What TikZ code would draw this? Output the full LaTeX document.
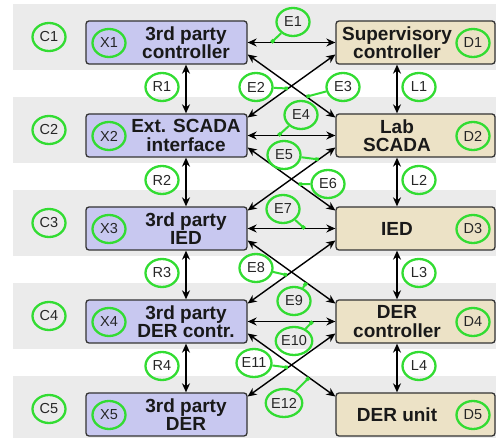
\documentclass[tikz,border=0pt]{standalone}
\usepackage{fontspec}
\setmainfont{Liberation Sans}
\usetikzlibrary{calc,positioning,shapes,arrows,arrows.meta}
\definecolor{xblue}{RGB}{200,200,240}
\definecolor{dbeige}{RGB}{236,226,198}
\definecolor{bandgray}{RGB}{235,235,235}
\definecolor{taggreen}{RGB}{50,220,50}

\begin{document}
\begin{tikzpicture}[x=1pt,y=-1pt]
\tikzstyle{box}=[draw=black!80, line width=1.3pt, rounded corners=3pt, minimum height=43pt, inner sep=0pt]
\tikzstyle{xbox}=[box, fill=xblue, minimum width=161pt]
\tikzstyle{dbox}=[box, fill=dbeige, minimum width=159pt]
\tikzstyle{boxtext}=[font=\fontsize{19}{18.5}\selectfont\bfseries, align=center, text=black!90, inner sep=0pt]
\tikzstyle{idtag}=[ellipse, draw=taggreen, line width=2.3pt, minimum width=33pt, minimum height=28pt, inner sep=0pt, font=\fontsize{14.5}{15}\selectfont, text=black!85]
\tikzstyle{conn}=[line width=1.4pt, {Stealth[length=9pt,width=8pt]}-{Stealth[length=9pt,width=8pt]}]
\tikzstyle{tagline}=[draw=taggreen, line width=2pt, -{Square[length=3.5pt,width=3.5pt]}]
\useasboundingbox (0,0) rectangle (496,438);
% grey bands, one per level
\foreach \c in {42.5,135.5,228.5,321.5,414.5}{\fill[bandgray] (13,\c-38.5) rectangle (496,\c+27.5);}
% third party side
\node[xbox] (X1) at (166.5,42.5) {};
\node[xbox] (X2) at (166.5,135.5) {};
\node[xbox] (X3) at (166.5,228.5) {};
\node[xbox] (X4) at (166.5,321.5) {};
\node[xbox] (X5) at (166.5,414.5) {};
\node[boxtext] (x1) at (186,42.5) {3rd party\\controller};
\node[boxtext] (x2) at (186,135.5) {Ext. SCADA\\interface};
\node[boxtext] (x3) at (186,228.5) {3rd party\\IED};
\node[boxtext] (x4) at (186,321.5) {3rd party\\DER contr.};
\node[boxtext] (x5) at (186,414.5) {3rd party\\DER};
% lab side
\node[dbox] (D1) at (415.5,42.5) {};
\node[dbox] (D2) at (415.5,135.5) {};
\node[dbox] (D3) at (415.5,228.5) {};
\node[dbox] (D4) at (415.5,321.5) {};
\node[dbox] (D5) at (415.5,414.5) {};
\node[boxtext] (d1) at (397,42.5) {Supervisory\\controller};
\node[boxtext] (d2) at (397,135.5) {Lab\\SCADA};
\node[boxtext] (d3) at (397,228.5) {IED};
\node[boxtext] (d4) at (397,321.5) {DER\\controller};
\node[boxtext] (d5) at (397,414.5) {DER unit};
% links
\foreach \i/\j in {1/2,2/3,3/4,4/5}{
  \draw[conn] (x\i |- X\i.south) -- (x\i |- X\j.north);
  \draw[conn] (d\i |- D\i.south) -- (d\i |- D\j.north);
}
\foreach \i/\e/\p in {1/e1/0.27,2/e4/0.35,3/e7/0.65,4/e10/0.74}{\draw[conn] (X\i) -- coordinate[pos=\p] (\e) (D\i);}
\foreach \i/\j/\ea/\pa/\eb/\pb in {1/2/e3/0.67/e2/0.54,2/3/e6/0.58/e5/0.19,3/4/e9/0.67/e8/0.55,4/5/e12/0.7/e11/0.54}{
  \draw[conn] ([yshift=-12pt]X\i.east) -- coordinate[pos=\pa] (\ea) ([yshift=18pt]D\j.west);
  \draw[conn] ([yshift=-12pt]D\i.west) -- coordinate[pos=\pb] (\eb) ([yshift=18pt]X\j.east);
}
% tags
\foreach \i/\c in {1/42.5,2/135.5,3/228.5,4/321.5,5/414.5}{
  \node[idtag] (C\i) at (49,\c-5.5) {C\i};
  \node[idtag] (X\i tag) at (109,\c+0.5) {X\i};
  \node[idtag] (D\i tag) at (473,\c+0.5) {D\i};
}
\foreach \i/\c in {1/42.5,2/135.5,3/228.5,4/321.5}{
  \node[idtag] (R\i) at (162,\c+44.5) {R\i};
  \node[idtag] (L\i) at (419,\c+44.5) {L\i};
}
\node[idtag] (E1) at (293,22) {E1};
\node[idtag] (E2) at (256,87) {E2};
\node[idtag] (E3) at (343,87) {E3};
\node[idtag] (E4) at (301,115) {E4};
\node[idtag] (E5) at (284,155) {E5};
\node[idtag] (E6) at (328,184) {E6};
\node[idtag] (E7) at (283,209) {E7};
\node[idtag] (E8) at (256,268) {E8};
\node[idtag] (E9) at (294,301) {E9};
\node[idtag] (E10) at (294,341) {E10};
\node[idtag] (E11) at (254,363) {E11};
\node[idtag] (E12) at (284,403) {E12};
\foreach \e in {1,...,12}{\draw[tagline] (E\e) -- (e\e);}
\end{tikzpicture}
\end{document}
